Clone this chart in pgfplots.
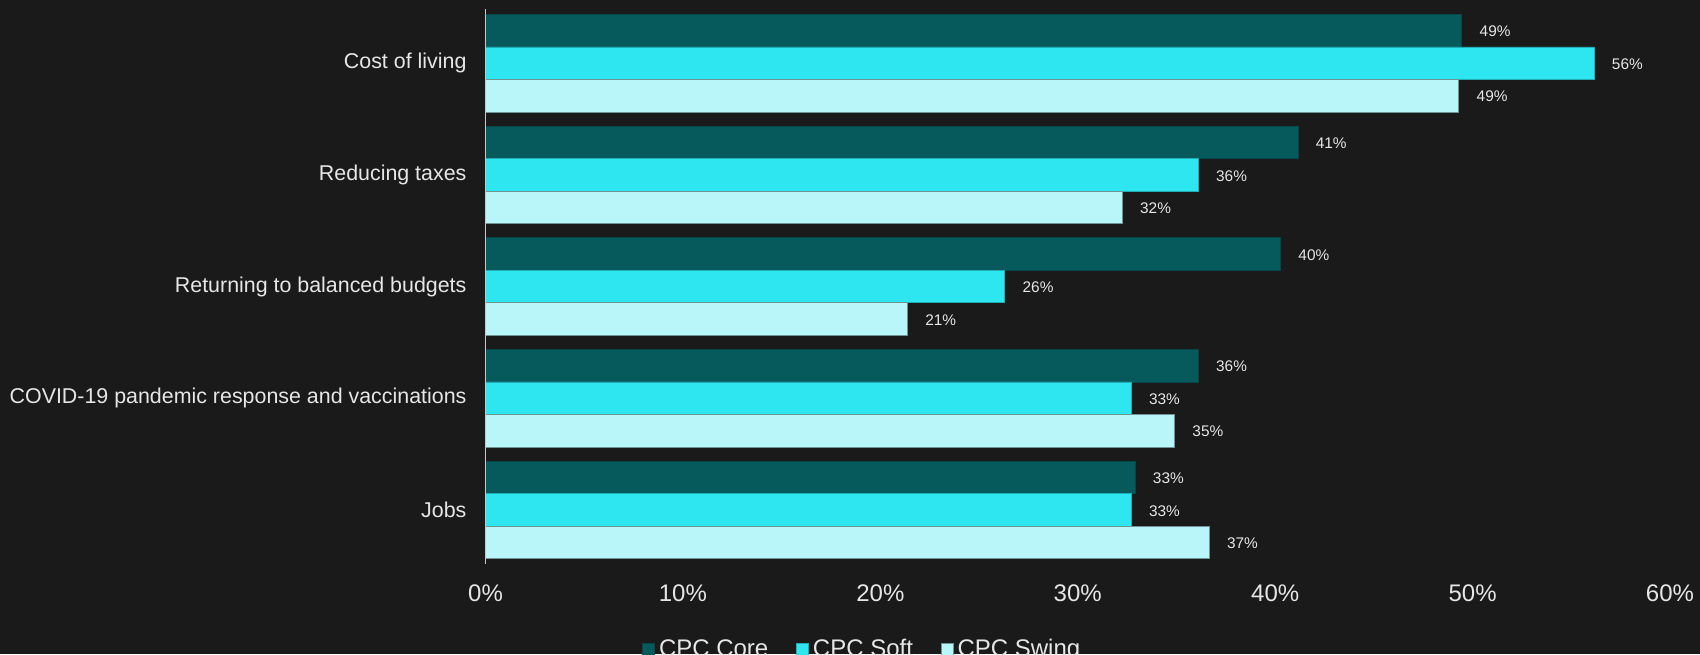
\documentclass[border=0pt]{standalone}
\usepackage{pgfplots}
\pgfplotsset{compat=1.18}
\usepackage{fontspec}
\setmainfont{Liberation Sans}
\definecolor{bgcol}{HTML}{1A1A1A}
\definecolor{core}{HTML}{065A5C}
\definecolor{soft}{HTML}{2EE6F0}
\definecolor{swing}{HTML}{B8F6F9}
\definecolor{txt}{HTML}{E6E6E6}
\definecolor{axcol}{HTML}{C8C8C8}
\begin{document}
\begin{tikzpicture}
\fill[bgcol] (0,0) rectangle (850pt,327pt);
\begin{axis}[
  at={(242.75pt,45pt)}, anchor=south west,
  scale only axis, width=592.25pt, height=277.5pt,
  xbar, bar width=0.291,
  xmin=0, xmax=60,
  ymin=-0.485, ymax=4.485, y dir=reverse,
  xtick={0,10,...,60},
  xticklabels={0\%,10\%,20\%,30\%,40\%,50\%,60\%},
  ytick={0,1,2,3,4},
  yticklabels={Cost of living,Reducing taxes,Returning to balanced budgets,COVID-19 pandemic response and vaccinations,Jobs},
  axis on top,
  axis lines*=left,
  x axis line style={draw=none},
  y axis line style={draw=axcol, line width=0.75pt},
  major tick length=0pt,
  tick style={draw=none},
  xticklabel style={font=\fontsize{12}{14}\selectfont, text=txt, yshift=-7pt},
  yticklabel style={font=\fontsize{10.7}{13}\selectfont, text=txt, xshift=-6pt},
  /pgf/number format/assume math mode=true,
  point meta=explicit symbolic,
  nodes near coords,
  nodes near coords style={font=\fontsize{7.7}{9}\selectfont, text=txt, anchor=west, xshift=5.5pt, yshift=-0.5pt},
  legend columns=3,
  legend style={draw=none, fill=none, text=txt, font=\fontsize{12}{14}\selectfont,
    at={(0.319,-0.154)}, anchor=center,
    /tikz/every even column/.append style={column sep=12pt}},
  legend image code/.code={\fill[#1] (0pt,-3pt) rectangle (6pt,3pt);},
  clip=false,
]
\addplot[fill=core, draw=core!80!black, line width=0.3pt, bar shift=-0.291] coordinates {
  (49.45,0) [49\%] (41.15,1) [41\%] (40.27,2) [40\%] (36.1,3) [36\%] (32.9,4) [33\%]
};
\addplot[fill=soft, draw=soft!75!black, line width=0.3pt, bar shift=0] coordinates {
  (56.15,0) [56\%] (36.1,1) [36\%] (26.3,2) [26\%] (32.7,3) [33\%] (32.7,4) [33\%]
};
\addplot[fill=swing, draw=swing!60!black, line width=0.3pt, bar shift=0.291] coordinates {
  (49.3,0) [49\%] (32.25,1) [32\%] (21.37,2) [21\%] (34.9,3) [35\%] (36.65,4) [37\%]
};
\legend{CPC Core,CPC Soft,CPC Swing}
\end{axis}
\pgfresetboundingbox
\useasboundingbox (0,0) rectangle (850pt,327pt);
\end{tikzpicture}
\end{document}
